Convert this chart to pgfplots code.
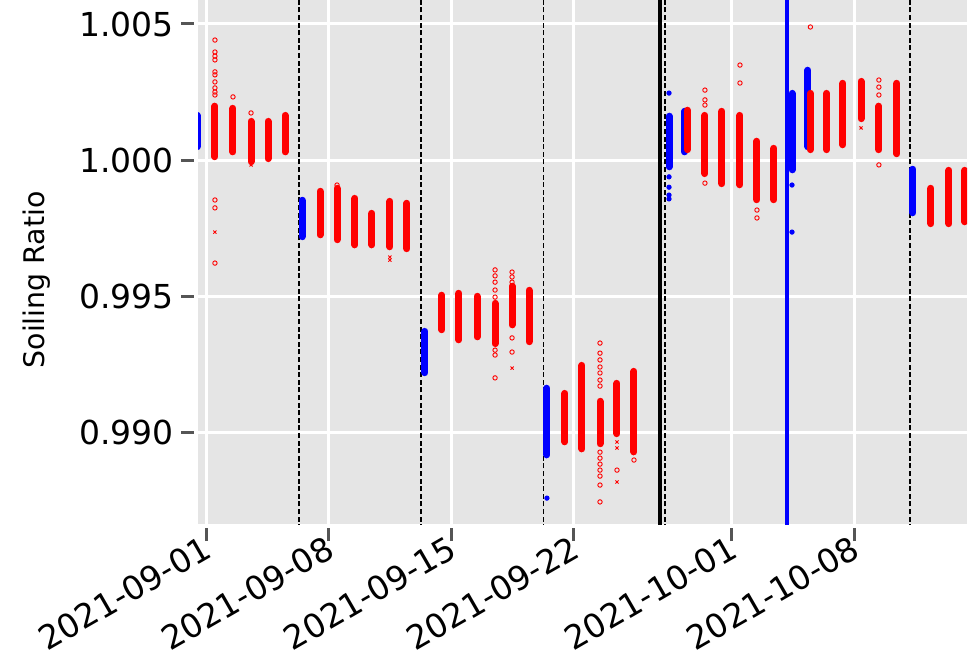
\documentclass[border=0pt]{standalone}
\usepackage{fontspec}
\setmainfont{DejaVu Sans}
\usepackage{pgfplots}
\usepackage{pgfplotstable}
\pgfplotsset{compat=1.18}
\definecolor{ggbg}{HTML}{E5E5E5}
\definecolor{tickgray}{HTML}{555555}

% daily clusters: top and bottom of each stripe (nan rows break the line)
\pgfplotstableread{
x y
0.51 1.00198
0.51 1.00012
nan nan
1.54 1.00190
1.54 1.00030
nan nan
2.57 1.00142
2.57 0.99994
nan nan
3.54 1.00142
3.54 1.00005
nan nan
4.51 1.00164
4.51 1.00030
nan nan
6.51 0.99885
6.51 0.99725
nan nan
7.48 0.99896
7.48 0.99707
nan nan
8.50 0.99859
8.50 0.99688
nan nan
9.47 0.99804
9.47 0.99688
nan nan
10.50 0.99848
10.50 0.99681
nan nan
11.47 0.99841
11.47 0.99674
nan nan
13.47 0.99503
13.47 0.99376
nan nan
14.44 0.99510
14.44 0.99339
nan nan
15.47 0.99499
15.47 0.99350
nan nan
16.50 0.99473
16.50 0.99325
nan nan
17.47 0.99536
17.47 0.99394
nan nan
18.44 0.99521
18.44 0.99332
nan nan
20.49 0.99142
20.49 0.98964
nan nan
21.46 0.99245
21.46 0.98938
nan nan
22.49 0.99113
22.49 0.98957
nan nan
23.46 0.99179
23.46 0.98994
nan nan
24.43 0.99223
24.43 0.98927
nan nan
27.48 1.00183
27.48 1.00038
nan nan
28.48 1.00164
28.48 0.99950
nan nan
29.45 1.00179
29.45 0.99913
nan nan
30.48 1.00164
30.48 0.99909
nan nan
31.45 1.00069
31.45 0.99854
nan nan
32.42 1.00043
32.42 0.99854
nan nan
34.50 1.00245
34.50 1.00038
nan nan
35.43 1.00245
35.43 1.00038
nan nan
36.36 1.00282
36.36 1.00056
nan nan
37.39 1.00289
37.39 1.00152
nan nan
38.41 1.00198
38.41 1.00038
nan nan
39.44 1.00282
39.44 1.00023
nan nan
41.38 0.99896
41.38 0.99766
nan nan
42.41 0.99962
42.41 0.99766
nan nan
43.32 0.99962
43.32 0.99773
}\redstripes

\pgfplotstableread{
x y
-0.51 1.00164
-0.51 1.00049
nan nan
5.48 0.99852
5.48 0.99718
nan nan
12.50 0.99370
12.50 0.99218
nan nan
19.46 0.99161
19.46 0.98916
nan nan
26.43 1.00161
26.43 0.99975
nan nan
27.32 1.00179
27.32 1.00030
nan nan
33.45 1.00245
33.45 0.99964
nan nan
34.36 1.00330
34.36 1.00049
nan nan
40.35 0.99966
40.35 0.99806
}\bluestripes

% isolated red readings (open circles)
\pgfplotstableread{
x y
0.51 1.00441
0.51 1.00397
0.51 1.00382
0.51 1.00368
0.51 1.00324
0.51 1.00313
0.51 1.00287
0.51 1.00265
0.51 1.00250
0.51 1.00239
0.51 0.99853
0.51 0.99824
0.51 0.99621
1.54 1.00232
2.57 1.00173
7.48 0.99908
16.50 0.99596
16.50 0.99574
16.50 0.99551
16.50 0.99522
16.50 0.99496
16.50 0.99301
16.50 0.99283
16.50 0.99199
17.47 0.99588
17.47 0.99570
17.47 0.99551
17.47 0.99346
17.47 0.99294
22.49 0.99327
22.49 0.99290
22.49 0.99265
22.49 0.99239
22.49 0.99217
22.49 0.99191
22.49 0.99169
22.49 0.98926
22.49 0.98904
22.49 0.98882
22.49 0.98860
22.49 0.98838
22.49 0.98805
22.49 0.98743
23.46 0.98860
24.43 0.98897
28.48 1.00257
28.48 1.00221
28.48 1.00202
28.48 0.99915
30.48 1.00349
30.48 1.00283
31.45 0.99816
31.45 0.99787
34.50 1.00489
38.41 1.00294
38.41 1.00268
38.41 1.00239
38.41 0.99982
}\redcircles

% isolated red readings (crosses)
\pgfplotstableread{
x y
0.51 0.99735
2.57 0.99982
10.50 0.99643
10.50 0.99632
17.47 0.99235
23.46 0.98963
23.46 0.98941
23.46 0.98816
37.39 1.00118
}\redcrosses

\pgfplotstableread{
x y
19.46 0.98757
26.43 1.00246
26.43 0.99938
26.43 0.99900
26.43 0.99871
26.43 0.99857
33.45 0.99908
33.45 0.99735
}\bluedots

\begin{document}
\begin{tikzpicture}
\begin{axis}[
    scale only axis,
    width=384.5pt, height=262pt,
    xmin=-0.457, xmax=43.44,
    ymin=0.986618, ymax=1.005882,
    axis background/.style={fill=ggbg},
    axis line style={draw=none},
    grid=major,
    grid style={white, line width=1.5pt},
    tick align=outside,
    xtick pos=left, ytick pos=left,
    major tick length=6.5pt,
    tick style={draw=tickgray, line width=1.5pt},
    every x tick/.append style={yshift=-2pt},
    every y tick/.append style={xshift=-2pt},
    xtick={0,7,14,21,30,37},
    xticklabels={2021-09-01,2021-09-08,2021-09-15,2021-09-22,2021-10-01,2021-10-08},
    ytick={0.990,0.995,1.000,1.005},
    yticklabels={0.990,0.995,1.000,1.005},
    xticklabel style={rotate=30, anchor=north east, xshift=2.15pt, yshift=5.7pt, font=\fontsize{16.5}{19}\selectfont},
    yticklabel style={xshift=-2pt, font=\fontsize{16.5}{19}\selectfont},
    ylabel={Soiling Ratio},
    ylabel style={font=\fontsize{14.2}{17}\selectfont, at={(axis description cs:-0.2094,0.466)}, anchor=center},
    unbounded coords=jump,
]
% event markers
\addplot[black, line width=0.65pt, dash pattern=on 2.5pt off 1.3pt] coordinates {(5.31,0.98) (5.31,1.01)};
\addplot[black, line width=1.1pt, dash pattern=on 2.5pt off 1.3pt] coordinates {(12.27,0.98) (12.27,1.01)};
\addplot[black, line width=0.65pt, dash pattern=on 2.5pt off 1.3pt] coordinates {(19.26,0.98) (19.26,1.01)};
\addplot[black, line width=2pt] coordinates {(25.9,0.98) (25.9,1.01)};
\addplot[black, line width=0.65pt, dash pattern=on 2.5pt off 1.3pt] coordinates {(26.2,0.98) (26.2,1.01)};
\addplot[blue, line width=2pt] coordinates {(33.16,0.98) (33.16,1.01)};
\addplot[black, line width=0.65pt, dash pattern=on 2.5pt off 1.3pt] coordinates {(40.18,0.98) (40.18,1.01)};
% data
\addplot[blue, line width=3.5pt, line cap=round] table {\bluestripes};
\addplot[only marks, mark=*, mark size=1.1pt, blue] table {\bluedots};
\addplot[red, line width=3.5pt, line cap=round] table {\redstripes};
\addplot[only marks, mark=o, mark size=1.1pt, red, mark options={line width=0.45pt}] table {\redcircles};
\addplot[only marks, mark=x, mark size=1.1pt, red, mark options={line width=0.45pt}] table {\redcrosses};
\end{axis}
\pgfresetboundingbox
\path (-99pt,-68.5pt) rectangle (389.5pt,262pt);
\end{tikzpicture}
\end{document}
